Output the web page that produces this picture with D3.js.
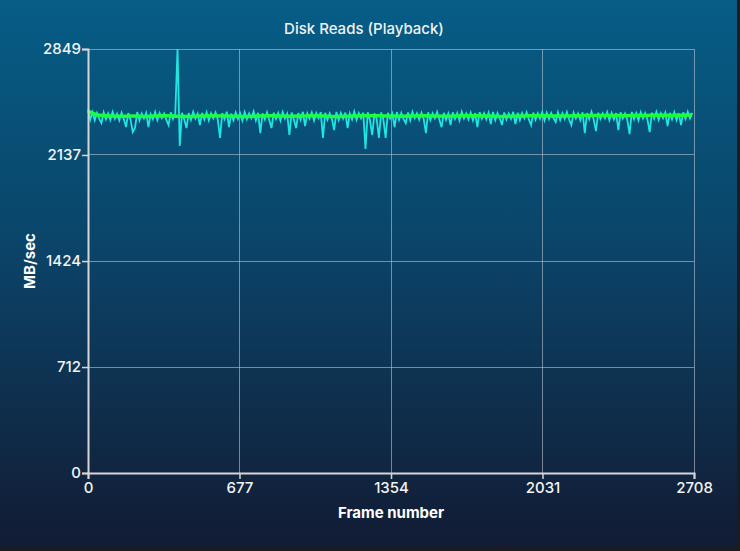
<!DOCTYPE html>
<html>
<head>
  <title>Disk Reads (Playback)</title>
  <style>
  body { margin: 0; background: #1b1c20; }
  svg { display: block; font-family: Inter, "Open Sans", sans-serif; }
  .grid line { stroke: #b9c4cf; stroke-opacity: 0.6; stroke-width: 1; shape-rendering: crispedges; }
  .axis .domain { stroke: #d6d6d6; stroke-width: 2; }
  .axis .tick line { stroke: #d6d6d6; stroke-width: 1.5; }
  .axis .tick text { fill: #f4f4f4; font-size: 15px; font-weight: 500; font-family: Inter, sans-serif; }
  .title { fill: #f2f2f2; font-size: 15px; font-weight: 500; text-anchor: middle; }
  .axlabel { fill: #ffffff; font-size: 15px; font-weight: 700; text-anchor: middle; }
  </style>
  <script src="https://d3js.org/d3.v7.min.js"></script>
</head>
<body>
<div id="container"></div>
<script>
// y ticks and x ticks as labelled in the original
var yTicks = [0, 712, 1424, 2137, 2849],
    xTicks = [0, 677, 1354, 2031, 2708]

// raw disk reads, one reading every 10 frames (MB/sec)
var readStep = 10
var reads = [
  2442, 2375, 2424, 2370, 2419, 2381, 2351, 2422, 2376, 2416,
  2372, 2427, 2380, 2414, 2369, 2421, 2378, 2324, 2418, 2374,
  2291, 2318, 2425, 2370, 2416, 2382, 2420, 2324, 2412, 2377,
  2426, 2371, 2419, 2384, 2415, 2373, 2338, 2423, 2379, 2417,
  2849, 2197, 2421, 2376, 2318, 2418, 2372, 2427, 2381, 2414,
  2338, 2420, 2375, 2424, 2369, 2417, 2383, 2422, 2374, 2251,
  2419, 2378, 2428, 2324, 2415, 2371, 2423, 2380, 2418, 2367,
  2425, 2377, 2416, 2383, 2429, 2370, 2420, 2284, 2417, 2376,
  2424, 2372, 2318, 2421, 2379, 2418, 2368, 2426, 2382, 2414,
  2271, 2422, 2375, 2318, 2419, 2373, 2427, 2331, 2416, 2380,
  2423, 2369, 2418, 2384, 2425, 2251, 2420, 2374, 2417, 2378,
  2304, 2426, 2371, 2419, 2381, 2422, 2318, 2415, 2376, 2428,
  2373, 2418, 2383, 2421, 2177, 2424, 2370, 2271, 2417, 2379,
  2251, 2423, 2375, 2251, 2420, 2382, 2416, 2324, 2425, 2372,
  2419, 2378, 2351, 2422, 2369, 2427, 2384, 2418, 2374, 2421,
  2380, 2284, 2424, 2371, 2417, 2383, 2426, 2376, 2324, 2420,
  2373, 2415, 2338, 2423, 2379, 2419, 2368, 2428, 2382, 2416,
  2375, 2422, 2370, 2418, 2324, 2425, 2381, 2417, 2377, 2421,
  2344, 2426, 2372, 2419, 2384, 2338, 2423, 2375, 2416, 2380,
  2427, 2344, 2420, 2371, 2418, 2383, 2424, 2376, 2338, 2422,
  2374, 2417, 2381, 2425, 2369, 2421, 2378, 2419, 2385, 2358,
  2423, 2372, 2418, 2380, 2426, 2375, 2338, 2420, 2382, 2416,
  2371, 2424, 2284, 2419, 2377, 2427, 2373, 2297, 2421, 2379,
  2417, 2383, 2425, 2370, 2420, 2376, 2418, 2304, 2423, 2381,
  2416, 2374, 2277, 2426, 2378, 2419, 2369, 2424, 2382, 2418,
  2375, 2291, 2421, 2380, 2427, 2372, 2417, 2384, 2422, 2331,
  2420, 2376, 2425, 2371, 2418, 2338, 2423, 2379, 2428, 2383,
  2420
]

// smoothed average, every 50 frames
var avgStep = 50
var average = [
  2432, 2404, 2399, 2397, 2398, 2396, 2399, 2400, 2397, 2396,
  2398, 2400, 2399, 2397, 2396, 2398, 2401, 2399, 2397, 2398,
  2400, 2398, 2396, 2397, 2399, 2401, 2400, 2398, 2397, 2399,
  2400, 2398, 2397, 2399, 2401, 2400, 2398, 2396, 2397, 2399,
  2401, 2400, 2398, 2399, 2401, 2402, 2403, 2402, 2401, 2402,
  2403, 2404, 2403, 2404, 2405
]

var W = 740, H = 551,
    margin = { top: 49, right: 46, bottom: 78, left: 88 },
    width = W - margin.left - margin.right,
    height = H - margin.top - margin.bottom

var svg = d3.select('#container').append('svg')
    .attr('width', W)
    .attr('height', H)

var defs = svg.append('defs')
var grad = defs.append('linearGradient')
    .attr('id', 'bg')
    .attr('x1', 0).attr('y1', 0).attr('x2', 0).attr('y2', 1)
grad.append('stop').attr('offset', '0%').attr('stop-color', '#065d86')
grad.append('stop').attr('offset', '45%').attr('stop-color', '#0b4469')
grad.append('stop').attr('offset', '100%').attr('stop-color', '#121b33')

svg.append('rect')
    .attr('width', 737)
    .attr('height', 548)
    .attr('fill', 'url(#bg)')

var x = d3.scaleLinear().domain([0, 2708]).range([0, width])
var y = d3.scaleLinear().domain([0, 2849]).range([height, 0])

var g = svg.append('g')
    .attr('transform', 'translate(' + margin.left + ',' + margin.top + ')')

// grid
var grid = g.append('g').attr('class', 'grid')
grid.selectAll('.gx')
  .data(xTicks.slice(1))
  .enter().append('line')
    .attr('x1', function(d) { return x(d) })
    .attr('x2', function(d) { return x(d) })
    .attr('y1', 0)
    .attr('y2', height)
grid.selectAll('.gy')
  .data(yTicks.slice(1))
  .enter().append('line')
    .attr('x1', 0)
    .attr('x2', width)
    .attr('y1', function(d) { return y(d) })
    .attr('y2', function(d) { return y(d) })

// lines
var readLine = d3.line()
    .x(function(d, i) { return x(i * readStep) })
    .y(function(d) { return y(d) })

var avgLine = d3.line()
    .x(function(d, i) { return x(i * avgStep) })
    .y(function(d) { return y(d) })
    .curve(d3.curveMonotoneX)

g.append('path')
    .datum(reads)
    .attr('d', readLine)
    .attr('fill', 'none')
    .attr('stroke', '#1fe6e0')
    .attr('stroke-width', 1.8)

g.append('path')
    .datum(average)
    .attr('d', avgLine)
    .attr('fill', 'none')
    .attr('stroke', '#1cff3c')
    .attr('stroke-width', 3.5)

// axes
var fmt = d3.format('d')
var xAxis = d3.axisBottom(x).tickValues(xTicks).tickFormat(fmt).tickSize(6).tickSizeOuter(6).tickPadding(3)
var yAxis = d3.axisLeft(y).tickValues(yTicks).tickFormat(fmt).tickSize(6).tickSizeOuter(6).tickPadding(1)

g.append('g')
    .attr('class', 'axis')
    .attr('transform', 'translate(0,' + height + ')')
    .call(xAxis)

g.append('g')
    .attr('class', 'axis')
    .call(yAxis)

// text
svg.append('text')
    .attr('class', 'title')
    .attr('x', 364)
    .attr('y', 34)
    .text('Disk Reads (Playback)')

svg.append('text')
    .attr('class', 'axlabel')
    .attr('x', margin.left + width / 2)
    .attr('y', 518)
    .text('Frame number')

svg.append('text')
    .attr('class', 'axlabel')
    .attr('transform', 'translate(35,' + (margin.top + height / 2) + ') rotate(-90)')
    .text('MB/sec')
</script>
</body>
</html>
